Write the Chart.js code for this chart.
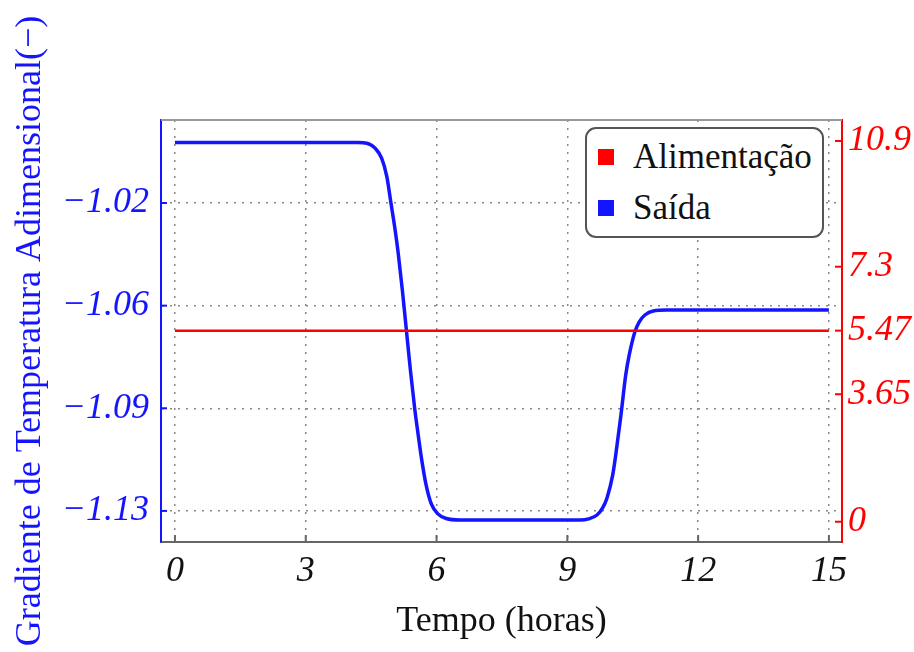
<!DOCTYPE html>
<html lang="pt">
<head>
<meta charset="UTF-8" />
<title>Gradiente de Temperatura Adimensional</title>
<script src="https://cdn.jsdelivr.net/npm/chart.js"></script>
<style>
  body { margin: 0; background: #fff; }
  #wrap { position: relative; width: 914px; height: 652px; }
  #legend {
    position: absolute; left: 585px; top: 127px; width: 239px; height: 111px;
    box-sizing: border-box; border: 2px solid #555; border-radius: 11px; background: #fff;
    font-family: "Liberation Serif", serif; font-size: 35px; color: #111;
  }
  .sw { position: absolute; left: 11px; width: 16px; height: 16px; }
  .lb { position: absolute; left: 46px; line-height: 38px; }
</style>
</head>
<body>
<div id="wrap">
  <canvas id="c" width="914" height="652"></canvas>
  <div id="legend"></div>
</div>
<script>
// data
const saidaTempo = [0, 4.2, 4.40, 4.59, 4.74, 4.86, 4.95, 5.05, 5.12, 5.22, 5.31, 5.40, 5.50, 5.57, 5.66,
  5.76, 5.88, 6.03, 6.22, 6.54, 9.29, 9.49, 9.68, 9.81, 9.91, 10.04, 10.11, 10.23, 10.34, 10.42, 10.55,
  10.65, 10.78, 10.97, 11.28, 15];
const saidaValores = [-1.0044, -1.0044, -1.0046, -1.0063, -1.0097, -1.0160, -1.0246, -1.0342, -1.0420,
  -1.0553, -1.0686, -1.0819, -1.0952, -1.1031, -1.1126, -1.1211, -1.1276, -1.1310, -1.1326, -1.1331,
  -1.1331, -1.1327, -1.1314, -1.1290, -1.1256, -1.1178, -1.1109, -1.0973, -1.0836, -1.0768, -1.0689,
  -1.0655, -1.0632, -1.0618, -1.0615, -1.0615];
const alimTempo = [0, 15];
const alimValores = [5.47, 5.47];

const xTicks = [0, 3, 6, 9, 12, 15];
const saidaTicks = [-1.025, -1.06, -1.095, -1.13];
const saidaTickLabels = ["\u22121.02", "\u22121.06", "\u22121.09", "\u22121.13"];
const alimTicks = [0, 3.65, 5.47, 7.3, 10.9];
const alimTickLabels = ["0", "3.65", "5.47", "7.3", "10.9"];

const BLUE = "#1414ff", RED = "#ff0000";
const serif = "'Liberation Serif', 'Times New Roman', serif";

const setTicks = (vals) => (scale) => { scale.ticks = vals.map((v) => ({ value: v })); };
const labelFrom = (vals, labels) => (v) => { const i = vals.findIndex((t) => Math.abs(t - v) < 1e-9); return i < 0 ? "" : labels[i]; };

// frame top line and inward tick marks
const frame = {
  id: "frame",
  afterDraw(chart) {
    const { ctx, chartArea: a, scales } = chart;
    ctx.save();
    ctx.lineWidth = 2;
    ctx.strokeStyle = "#999";
    ctx.beginPath(); ctx.moveTo(a.left, a.top); ctx.lineTo(a.right, a.top); ctx.stroke();
    ctx.strokeStyle = "#666";
    xTicks.forEach((t) => { const x = scales.x.getPixelForValue(t); ctx.beginPath(); ctx.moveTo(x, a.bottom); ctx.lineTo(x, a.bottom - 7); ctx.stroke(); });
    ctx.strokeStyle = BLUE;
    saidaTicks.forEach((t) => { const y = scales.y.getPixelForValue(t); ctx.beginPath(); ctx.moveTo(a.left, y); ctx.lineTo(a.left + 6, y); ctx.stroke(); });
    ctx.strokeStyle = RED;
    alimTicks.forEach((t) => { const y = scales.y2.getPixelForValue(t); ctx.beginPath(); ctx.moveTo(a.right, y); ctx.lineTo(a.right - 7, y); ctx.stroke(); });
    ctx.restore();
  },
};

new Chart(document.getElementById("c"), {
  type: "line",
  data: {
    datasets: [
      {
        label: "Alimentação",
        data: alimTempo.map((t, i) => ({ x: t, y: alimValores[i] })),
        yAxisID: "y2", borderColor: RED, borderWidth: 2.5, pointRadius: 0,
      },
      {
        label: "Saída",
        data: saidaTempo.map((t, i) => ({ x: t, y: saidaValores[i] })),
        yAxisID: "y", borderColor: BLUE, borderWidth: 3.5, pointRadius: 0,
        cubicInterpolationMode: "monotone",
      },
    ],
  },
  options: {
    responsive: false,
    animation: false,
    layout: { padding: { top: 120 } },
    plugins: { legend: { display: false }, tooltip: { enabled: false } },
    scales: {
      x: {
        type: "linear", min: -0.32, max: 15.3,
        afterBuildTicks: setTicks(xTicks),
        afterFit: (s) => { s.height = 110; },
        grid: { color: "#888", lineWidth: 1.5, drawTicks: false },
        border: { color: "#666", width: 2, dash: [2, 6] },
        ticks: { color: "#111", padding: 8, maxRotation: 0, autoSkip: false, font: { family: serif, size: 36, style: "italic" } },
        title: { display: true, text: "Tempo (horas)", color: "#111", padding: { top: 0, bottom: 9 }, font: { family: serif, size: 36 } },
      },
      y: {
        position: "left", min: -1.1406, max: -0.9967,
        afterBuildTicks: setTicks(saidaTicks),
        afterFit: (s) => { s.width = 161; },
        grid: { color: "#888", lineWidth: 1.5, drawTicks: false },
        border: { color: BLUE, width: 2, dash: [2, 6] },
        ticks: { color: BLUE, padding: 12, autoSkip: false, font: { family: serif, size: 36, style: "italic" }, callback: labelFrom(saidaTicks, saidaTickLabels) },
        title: { display: true, text: "Gradiente de Temperatura Adimensional(\u2212)", color: BLUE, padding: { top: 9, bottom: 0 }, font: { family: serif, size: 36 } },
      },
      y2: {
        position: "right", min: -0.58, max: 11.5,
        afterBuildTicks: setTicks(alimTicks),
        afterFit: (s) => { s.width = 72; },
        grid: { display: false, drawTicks: false },
        border: { color: RED, width: 2 },
        ticks: { color: RED, padding: 6, autoSkip: false, font: { family: serif, size: 36, style: "italic" }, callback: labelFrom(alimTicks, alimTickLabels) },
      },
    },
  },
  plugins: [frame],
});

// legend box
const legend = document.getElementById("legend");
[["Alimentação", RED, 28], ["Saída", BLUE, 79]].forEach(([txt, col, cy]) => {
  legend.innerHTML += `<span class="sw" style="background:${col};top:${cy - 8}px"></span><span class="lb" style="top:${cy - 19}px">${txt}</span>`;
});
</script>
</body>
</html>
